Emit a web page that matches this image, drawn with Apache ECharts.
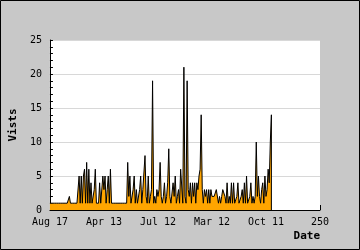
<!DOCTYPE html>
<html>
<head>
<meta charset="utf-8">
<script src="https://cdn.jsdelivr.net/npm/echarts@6/dist/echarts.min.js"></script>
<style>
html,body{margin:0;padding:0;background:#c8c8c8;}
#c{width:360px;height:250px;}
</style>
</head>
<body>
<div id="c"></div>
<script>
// Daily visits, one value per day index (0..205)
var visits = [
1,1,1,1,1,1,1,1,1,1,1,1,1,1,1,1,1,1,2,1,
1,1,1,1,1,1,1,5,1,5,1,5,6,1,7,1,6,1,4,1,
1,3,6,1,1,1,4,1,1,5,3,5,1,3,5,1,6,1,1,1,
1,1,1,1,1,1,1,1,1,1,1,1,7,2,5,1,1,3,5,1,
3,1,1,3,5,1,3,3,8,2,1,5,1,2,3,19,1,2,1,3,
2,3,7,2,1,2,4,1,2,4,9,2,1,1,4,2,5,1,2,3,
1,6,6,1,21,2,1,19,3,2,4,1,4,2,4,1,4,3,5,6,
14,3,1,3,2,3,1,3,1,3,2,2,2,2,3,3,1,2,1,2,
3,3,2,1,4,1,2,1,4,1,4,1,1,2,4,1,1,2,3,1,
4,1,5,1,1,2,4,1,2,1,2,10,2,5,2,1,3,4,1,5,
2,3,6,4,10,14
];
var xTickLabels = ['Aug 17','Apr 13','Jul 12','Mar 12','Oct 11','250'];
var yTitle = 'Vists';
var xTitle = 'Date';

var seriesData = visits.map(function(v,i){return [i,v];});
seriesData.push([visits.length-1, 0]);

var chart = echarts.init(document.getElementById('c'), null, {renderer:'canvas'});
var mono = 'DejaVu Sans Mono';
chart.setOption({
  animation:false,
  backgroundColor:'#c8c8c8',
  grid:{left:40,right:40,top:40,bottom:40,show:true,backgroundColor:'#ffffff',borderWidth:0},
  xAxis:{
    type:'value',min:0,max:250,interval:50,
    name:xTitle,nameLocation:'end',nameGap:0,
    nameTextStyle:{fontFamily:mono,fontWeight:'bold',fontSize:11,color:'#000',align:'right',verticalAlign:'top',padding:[21,0,0,0]},
    axisLine:{lineStyle:{color:'#000',width:1}},
    axisTick:{inside:true,length:5,lineStyle:{color:'#000'}},
    splitLine:{show:false},
    axisLabel:{fontFamily:mono,fontSize:10,color:'#000',margin:7,
      formatter:function(v){return xTickLabels[Math.round(v/50)];}}
  },
  yAxis:{
    type:'value',min:0,max:25,interval:5,
    name:yTitle,nameLocation:'middle',nameGap:30,nameRotate:90,
    nameTextStyle:{fontFamily:mono,fontWeight:'bold',fontSize:11,color:'#000'},
    axisLine:{show:true,lineStyle:{color:'#000',width:1}},
    axisTick:{show:true,inside:true,length:3,lineStyle:{color:'#000'}},
    minorTick:{show:true,splitNumber:5,length:3,lineStyle:{color:'#000'}},
    splitLine:{show:true,lineStyle:{color:'#d8d8d8',width:1}},
    axisLabel:{fontFamily:mono,fontSize:10,color:'#000',margin:8}
  },
  series:[{
    type:'line',data:seriesData,showSymbol:false,symbol:'none',
    lineStyle:{color:'#000',width:1},
    areaStyle:{color:'#ffa500',opacity:1},
    z:3
  }],
  graphic:[{type:'rect',shape:{x:0.5,y:0.5,width:359,height:249},style:{fill:null,stroke:'#000',lineWidth:1},z:100}]
});
</script>
</body>
</html>
